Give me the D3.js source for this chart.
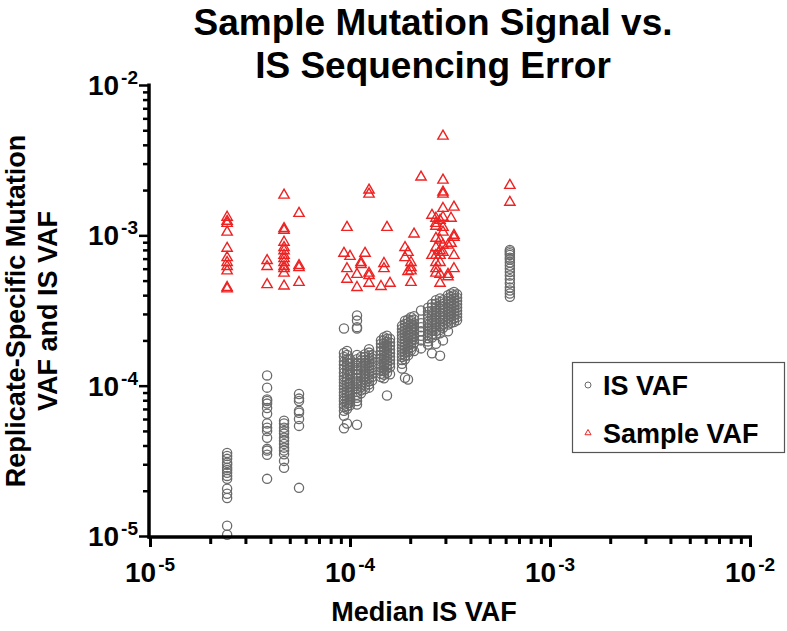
<!DOCTYPE html>
<html><head><meta charset="utf-8">
<script src="https://cdn.jsdelivr.net/npm/d3@7"></script>
<style>
body{margin:0;background:#fff}
svg{display:block}
text{font-family:"Liberation Sans",Arial,Helvetica,sans-serif;font-weight:bold;fill:#000}
</style>
</head><body>
<svg id="chart" width="787" height="631"></svg>
<script>
// ---- data ----
const titleLines = ["Sample Mutation Signal vs.", "IS Sequencing Error"];
const xLabel = "Median IS VAF";
const yLabelLines = ["Replicate-Specific Mutation", "VAF and IS VAF"];
const seriesNames = ["IS VAF", "Sample VAF"];
const majorTicks = [1e-5, 1e-4, 1e-3, 1e-2];
const tickExponents = ["-5", "-4", "-3", "-2"];

// x position (median IS VAF) of each sample group
const medianIS = [2.43e-5, 3.85e-5, 4.68e-5, 5.56e-5,
  9.33e-5, 9.66e-5, 1.0e-4, 1.084e-4, 1.135e-4, 1.189e-4, 1.245e-4, 1.288e-4,
  1.429e-4, 1.479e-4, 1.531e-4, 1.585e-4,
  1.82e-4, 1.884e-4, 1.95e-4, 2.018e-4, 2.09e-4, 2.265e-4,
  2.455e-4, 2.57e-4, 2.69e-4, 2.82e-4, 2.917e-4,
  3.09e-4, 3.2e-4, 3.31e-4, 3.43e-4, 6.30e-4];

// IS VAF values per group
const isVAF = [
  [3.57e-5,3.41e-5,3.26e-5,3.07e-5,2.98e-5,2.84e-5,2.75e-5,2.63e-5,2.51e-5,2.40e-5,2.06e-5,1.91e-5,1.79e-5,1.17e-5,1.02e-5],
  [1.17e-4,9.7e-5,8.1e-5,7.9e-5,7.6e-5,7.1e-5,6.5e-5,5.6e-5,5.25e-5,5.0e-5,4.5e-5,3.8e-5,3.7e-5,3.47e-5,2.4e-5],
  [5.85e-5,5.6e-5,5.25e-5,5.0e-5,4.8e-5,4.5e-5,4.3e-5,4.1e-5,3.87e-5,3.7e-5,3.5e-5,3.16e-5,2.84e-5],
  [8.8e-5,8.2e-5,7.9e-5,6.8e-5,6.6e-5,6.0e-5,5.4e-5,2.09e-5],
  [2.4e-4,1.65e-4,1.55e-4,1.45e-4,1.38e-4,1.3e-4,1.22e-4,1.15e-4,1.1e-4,1.05e-4,1.0e-4,9.5e-5,9.0e-5,8.6e-5,8.2e-5,7.9e-5,7.5e-5,7.2e-5,6.8e-5,6.3e-5,5.2e-5],
  [1.7e-4,1.6e-4,1.5e-4,1.42e-4,1.35e-4,1.28e-4,1.2e-4,1.12e-4,1.07e-4,1.02e-4,9.7e-5,9.2e-5,8.8e-5,8.4e-5,8.0e-5,7.6e-5,7.3e-5,7.0e-5,5.6e-5],
  [1.5e-4,1.4e-4,1.32e-4,1.25e-4,1.18e-4,1.1e-4,1.04e-4,9.8e-5,9.3e-5,8.9e-5,8.5e-5,8.1e-5,7.7e-5,7.4e-5],
  [2.93e-4,2.71e-4,2.45e-4,2.4e-4,1.6e-4,1.5e-4,1.42e-4,1.35e-4,1.27e-4,1.2e-4,1.13e-4,1.07e-4,1.02e-4,9.6e-5,9.1e-5,8.7e-5,8.3e-5,7.9e-5,7.5e-5,5.5e-5],
  [1.55e-4,1.47e-4,1.4e-4,1.33e-4,1.26e-4,1.2e-4,1.14e-4,1.08e-4,1.03e-4,9.8e-5,9.3e-5,8.9e-5],
  [1.62e-4,1.55e-4,1.48e-4,1.41e-4,1.34e-4,1.27e-4,1.21e-4,1.15e-4,1.1e-4,1.05e-4,1.0e-4,9.5e-5],
  [1.75e-4,1.66e-4,1.58e-4,1.5e-4,1.43e-4,1.36e-4,1.3e-4,1.24e-4,1.18e-4,1.12e-4,1.07e-4,1.02e-4,9.7e-5],
  [1.6e-4,1.52e-4,1.45e-4,1.38e-4,1.32e-4,1.26e-4,1.2e-4,1.14e-4,1.08e-4],
  [2.0e-4,1.9e-4,1.8e-4,1.7e-4,1.6e-4,1.52e-4,1.45e-4,1.38e-4,1.32e-4,1.25e-4,1.2e-4,1.14e-4],
  [2.1e-4,2.0e-4,1.9e-4,1.8e-4,1.7e-4,1.62e-4,1.54e-4,1.46e-4,1.39e-4,1.32e-4,1.25e-4,1.18e-4,1.12e-4],
  [2.15e-4,2.05e-4,1.95e-4,1.85e-4,1.76e-4,1.67e-4,1.59e-4,1.51e-4,1.44e-4,1.37e-4,1.3e-4,1.22e-4,8.6e-5],
  [2.05e-4,1.94e-4,1.84e-4,1.74e-4,1.65e-4,1.56e-4,1.48e-4,1.4e-4,1.33e-4,1.19e-4],
  [2.5e-4,2.38e-4,2.27e-4,2.16e-4,2.06e-4,1.96e-4,1.87e-4,1.78e-4,1.7e-4,1.62e-4,1.55e-4,1.48e-4,1.4e-4,1.3e-4],
  [2.7e-4,2.57e-4,2.45e-4,2.33e-4,2.22e-4,2.12e-4,2.02e-4,1.92e-4,1.83e-4,1.74e-4,1.66e-4,1.58e-4,1.5e-4,1.13e-4],
  [2.75e-4,2.6e-4,2.48e-4,2.36e-4,2.25e-4,2.14e-4,2.04e-4,1.94e-4,1.85e-4,1.76e-4,1.67e-4,1.59e-4,1.1e-4],
  [2.85e-4,2.7e-4,2.57e-4,2.44e-4,2.32e-4,2.2e-4,2.09e-4,1.99e-4,1.89e-4,1.8e-4,1.72e-4],
  [2.9e-4,2.75e-4,2.6e-4,2.47e-4,2.35e-4,2.23e-4,2.12e-4,2.02e-4,1.92e-4,1.7e-4],
  [3.16e-4,2.6e-4,2.45e-4,2.3e-4,2.15e-4,2.0e-4,1.77e-4],
  [3.3e-4,3.1e-4,2.95e-4,2.8e-4,2.66e-4,2.53e-4,2.4e-4,2.28e-4,2.17e-4,2.07e-4,1.97e-4,1.88e-4],
  [3.5e-4,3.32e-4,3.15e-4,3.0e-4,2.85e-4,2.7e-4,2.57e-4,2.44e-4,2.32e-4,2.2e-4,2.09e-4,1.64e-4],
  [3.7e-4,3.5e-4,3.32e-4,3.15e-4,2.99e-4,2.84e-4,2.7e-4,2.56e-4,2.43e-4,2.31e-4,2.19e-4,1.9e-4],
  [3.8e-4,3.6e-4,3.42e-4,3.24e-4,3.07e-4,2.91e-4,2.76e-4,2.62e-4,2.48e-4,2.35e-4,2.23e-4,1.58e-4],
  [3.7e-4,3.5e-4,3.32e-4,3.15e-4,2.99e-4,2.84e-4,2.7e-4,2.56e-4,2.43e-4,2.0e-4],
  [4.0e-4,3.8e-4,3.62e-4,3.45e-4,3.28e-4,3.12e-4,2.97e-4,2.83e-4,2.7e-4,2.55e-4,2.3e-4],
  [4.1e-4,3.9e-4,3.7e-4,3.52e-4,3.35e-4,3.19e-4,3.04e-4,2.9e-4,2.76e-4,2.62e-4],
  [4.2e-4,4.0e-4,3.8e-4,3.6e-4,3.42e-4,3.25e-4,3.1e-4,2.95e-4,2.8e-4,2.65e-4],
  [4.05e-4,3.85e-4,3.66e-4,3.48e-4,3.31e-4,3.15e-4,3.0e-4,2.86e-4,2.72e-4],
  [8.0e-4,7.8e-4,7.6e-4,7.4e-4,7.1e-4,6.9e-4,6.6e-4,6.3e-4,6.0e-4,5.7e-4,5.4e-4,5.1e-4,4.8e-4,4.5e-4,4.3e-4,4.1e-4,3.9e-4]
];

// Sample VAF values per group
const sampleVAF = [
  [1.32e-3,1.24e-3,1.20e-3,1.05e-3,8.2e-4,7.1e-4,6.6e-4,6.2e-4,5.8e-4,4.5e-4,4.4e-4],
  [6.8e-4,6.2e-4,4.7e-4],
  [1.85e-3,1.11e-3,1.08e-3,9.0e-4,8.3e-4,7.9e-4,7.35e-4,7.0e-4,6.6e-4,6.2e-4,6.0e-4,5.6e-4,4.6e-4],
  [1.40e-3,6.3e-4,6.1e-4,4.86e-4],
  [7.6e-4],
  [1.13e-3,6.0e-4,5.1e-4],
  [7.24e-4],
  [4.5e-4,5.5e-4],
  [6.6e-4,6.4e-4],
  [7.6e-4],
  [2.0e-3,1.88e-3,5.6e-4,5.4e-4,4.8e-4],
  [],
  [4.57e-4],
  [6.5e-4,6.0e-4],
  [1.13e-3],
  [4.8e-4],
  [],
  [8.3e-4,7.1e-4],
  [7.7e-4,5.75e-4],
  [6.6e-4,6.1e-4,5.8e-4,4.86e-4],
  [1.02e-3],
  [2.44e-3],
  [],
  [1.36e-3,7.35e-4],
  [1.30e-3,1.20e-3,1.15e-3,9.55e-4,8.3e-4,7.35e-4,6.6e-4,6.0e-4,5.6e-4],
  [1.26e-3,9.3e-4,7.9e-4,7.35e-4,6.6e-4,5.5e-4,4.8e-4],
  [4.57e-3,2.33e-3,1.94e-3,1.88e-3,1.51e-3,1.32e-3,1.13e-3,1.05e-3,8.6e-4,7.7e-4],
  [8.6e-4,5.5e-4,5.3e-4],
  [8.85e-4,1.30e-3],
  [1.0e-3,9.7e-4,1.54e-3,7.35e-4,6.0e-4],
  [],
  [2.15e-3,1.66e-3]
];

// ---- drawing ----
const svg = d3.select("#chart");
const grey = "#6a6a6a", red = "#ee2222";

const x = d3.scaleLog().domain([1e-5, 1e-2]).range([150, 750]);
const y = d3.scaleLog().domain([1e-5, 1e-2]).range([536, 85]);

const minorTicks = [];
majorTicks.slice(0, 3).forEach(d => { for (let k = 2; k <= 9; k++) minorTicks.push(k * d); });

const isPts = [], smpPts = [];
medianIS.forEach((m, i) => {
  isVAF[i].forEach(v => isPts.push([m, v]));
  sampleVAF[i].forEach(v => smpPts.push([m, v]));
});

// points
svg.append("g").selectAll("circle").data(isPts).join("circle")
  .attr("cx", d => x(d[0])).attr("cy", d => y(d[1])).attr("r", 4.6)
  .attr("fill", "none").attr("stroke", grey).attr("stroke-width", 1.3);

const tri = d3.symbol().type(d3.symbolTriangle).size(46);
svg.append("g").selectAll("path").data(smpPts).join("path")
  .attr("d", tri)
  .attr("transform", d => `translate(${x(d[0])},${y(d[1])})`)
  .attr("fill", "none").attr("stroke", red).attr("stroke-width", 1.4);

// axes
const axX = svg.append("g").attr("transform", "translate(0,537)");
axX.call(d3.axisBottom(x).tickValues(minorTicks).tickSize(7).tickFormat("").tickSizeOuter(0));
axX.call(g => g.select(".domain").remove());
axX.append("g").call(d3.axisBottom(x).tickValues(majorTicks).tickSize(10).tickFormat("").tickSizeOuter(0))
  .call(g => g.select(".domain").remove());
axX.selectAll(".tick line").attr("stroke", "#000").attr("stroke-width", 3);

const axY = svg.append("g").attr("transform", "translate(149,0)");
axY.call(d3.axisLeft(y).tickValues(minorTicks).tickSize(6).tickFormat("").tickSizeOuter(0));
axY.call(g => g.select(".domain").remove());
axY.append("g").call(d3.axisLeft(y).tickValues(majorTicks).tickSize(10).tickFormat("").tickSizeOuter(0))
  .call(g => g.select(".domain").remove());
axY.selectAll(".tick line").attr("stroke", "#000").attr("stroke-width", 2.5);

svg.append("line").attr("x1", 147.5).attr("x2", 752).attr("y1", 537).attr("y2", 537)
  .attr("stroke", "#000").attr("stroke-width", 3.5);
svg.append("line").attr("x1", 149).attr("x2", 149).attr("y1", y(1e-2) - 1.5).attr("y2", 538.5)
  .attr("stroke", "#000").attr("stroke-width", 3.5);

// tick labels
majorTicks.forEach((t, i) => {
  const tx = svg.append("text").attr("x", x(t)).attr("y", 582)
    .attr("text-anchor", "middle").style("font-size", "28px");
  tx.append("tspan").text("10");
  tx.append("tspan").attr("dx", 2).attr("dy", -11).style("font-size", "19px").text(tickExponents[i]);

  const ty = svg.append("text").attr("x", 138).attr("y", y(t) + 10)
    .attr("text-anchor", "end").style("font-size", "28px");
  ty.append("tspan").text("10");
  ty.append("tspan").attr("dx", 2).attr("dy", -11).style("font-size", "19px").text(tickExponents[i]);
});

// title
titleLines.forEach((t, i) => {
  svg.append("text").attr("x", 433).attr("y", 35 + i * 43)
    .attr("text-anchor", "middle").style("font-size", "37px").text(t);
});

// axis titles
svg.append("text").attr("x", 424).attr("y", 621).attr("text-anchor", "middle")
  .style("font-size", "27px").text(xLabel);
yLabelLines.forEach((t, i) => {
  svg.append("text").attr("transform", `translate(${25 + i * 32},311) rotate(-90)`)
    .attr("text-anchor", "middle").style("font-size", "27px").text(t);
});

// legend
const lg = svg.append("g");
lg.append("rect").attr("x", 572.5).attr("y", 362.5).attr("width", 212).attr("height", 90)
  .attr("fill", "#fff").attr("stroke", "#555").attr("stroke-width", 1.2);
lg.append("circle").attr("cx", 588).attr("cy", 385).attr("r", 3)
  .attr("fill", "none").attr("stroke", grey).attr("stroke-width", 1);
lg.append("path").attr("d", d3.symbol().type(d3.symbolTriangle).size(16)())
  .attr("transform", "translate(588,433)")
  .attr("fill", "none").attr("stroke", red).attr("stroke-width", 1);
lg.append("text").attr("x", 603).attr("y", 395).style("font-size", "27px").text(seriesNames[0]);
lg.append("text").attr("x", 603).attr("y", 443).style("font-size", "27px").text(seriesNames[1]);
</script>
</body></html>
